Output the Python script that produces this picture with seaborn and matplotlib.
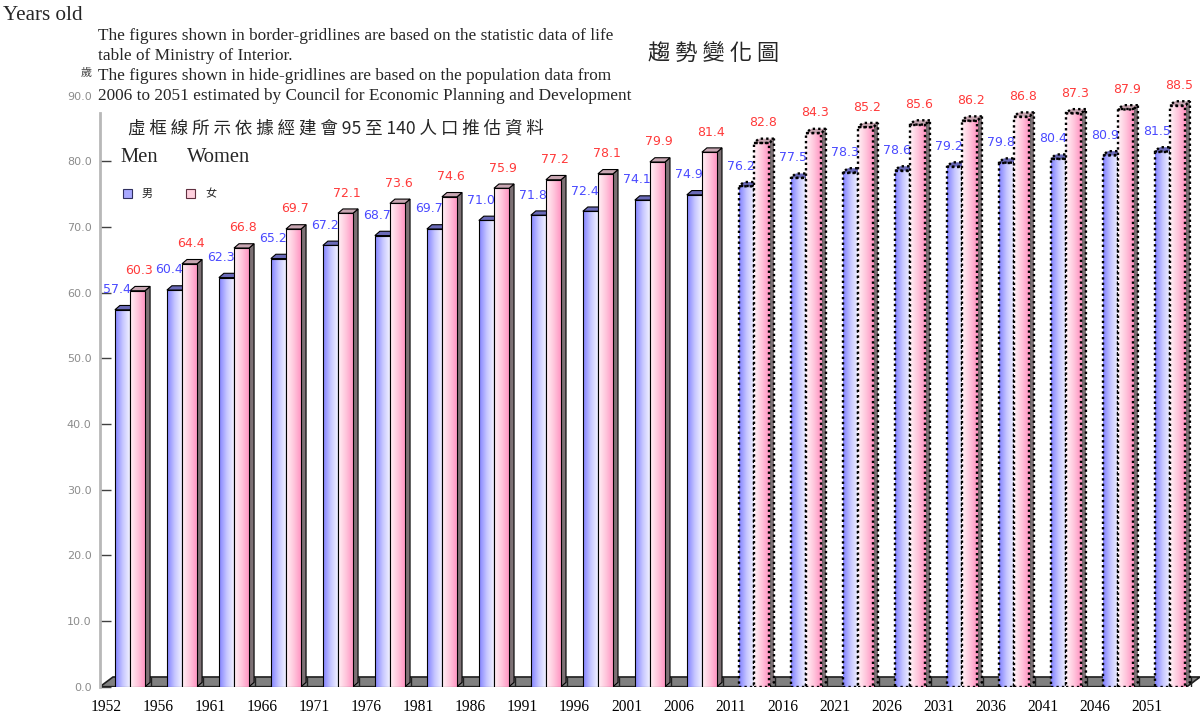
import numpy as np
import pandas as pd
import matplotlib
matplotlib.use("Agg")
import matplotlib.pyplot as plt
import seaborn as sns
from matplotlib.patches import Polygon, Patch
from matplotlib.colors import LinearSegmentedColormap

# ---------------- data ----------------
years = ["1952", "1956", "1961", "1966", "1971", "1976", "1981", "1986", "1991",
         "1996", "2001", "2006", "2011", "2016", "2021", "2026", "2031", "2036",
         "2041", "2046", "2051"]
men = [57.4, 60.4, 62.3, 65.2, 67.2, 68.7, 69.7, 71.0, 71.8, 72.4, 74.1, 74.9,
       76.2, 77.5, 78.3, 78.6, 79.2, 79.8, 80.4, 80.9, 81.5]
women = [60.3, 64.4, 66.8, 69.7, 72.1, 73.6, 74.6, 75.9, 77.2, 78.1, 79.9, 81.4,
         82.8, 84.3, 85.2, 85.6, 86.2, 86.8, 87.3, 87.9, 88.5]
sexes = ["男", "女"]
n_lifetable = 12          # first groups: life-table data (solid border); rest projected (dotted)
yticks = np.arange(0, 91, 10)

# ---------------- style ----------------
sns.set_theme(style="white")
plt.rcParams["font.family"] = ["DejaVu Sans", "Noto Sans CJK TC"]
SERIF = ["Liberation Serif", "DejaVu Serif"]
CJK = ["Noto Sans CJK TC", "DejaVu Sans"]

W, H = 1203, 715
fig = plt.figure(figsize=(W / 100, H / 100), dpi=100)
ax = fig.add_axes([100 / W, 1 - 686.7 / H, 1100 / W, (686.7 - 95.7) / H])

df = pd.DataFrame({
    "year": years * 2,
    "sex": [sexes[0]] * len(years) + [sexes[1]] * len(years),
    "value": men + women,
})
sns.barplot(data=df, x="year", y="value", hue="sex", order=years, hue_order=sexes,
            width=0.58, palette=["#9a9aff", "#ffb0cc"], saturation=1,
            errorbar=None, legend=False, ax=ax)

cmaps = [LinearSegmentedColormap.from_list("m", ["#8282ff", "#c8c8ff", "#f6f6ff"]),
         LinearSegmentedColormap.from_list("w", ["#fff2f6", "#ffc6dc", "#ff90c0"])]
top_cols = ["#6a6ab8", "#c8a6b2"]
side_col = "#7c7074"
lab_cols = ["#4a4aff", "#ff3a3a"]
lab_dx = [-4, 1]

xlim = (-0.577, 20.58)
ylim = (0, 90)
ppx = (xlim[1] - xlim[0]) / 1100.0     # data units per pixel (x)
ppy = (ylim[1] - ylim[0]) / (686.7 - 95.7)
ddx, ddy = 5 * ppx, 4.3 * ppy          # 3D depth offset of bars
grad = np.linspace(0, 1, 64)[np.newaxis, :]
dotted = (0, (1, 1.3))

for j, cont in enumerate(ax.containers):
    zb = 2 + j
    for i, bar in enumerate(cont):
        x0, w, h = bar.get_x(), bar.get_width(), bar.get_height()
        proj = i >= n_lifetable
        ls = dotted if proj else "-"
        lw = 1.7 if proj else 0.8
        ax.imshow(grad, extent=(x0, x0 + w, 0, h), cmap=cmaps[j], aspect="auto",
                  zorder=zb + 0.2, interpolation="bilinear")
        bar.set_facecolor("none")
        bar.set_edgecolor("black")
        bar.set_linewidth(lw)
        bar.set_linestyle(ls)
        bar.set_zorder(zb + 0.4)
        side = Polygon([(x0 + w, 0), (x0 + w + ddx, ddy), (x0 + w + ddx, h + ddy), (x0 + w, h)],
                       closed=True, facecolor=side_col, edgecolor="black",
                       linewidth=lw, linestyle=ls, zorder=zb + 0.1)
        top = Polygon([(x0, h), (x0 + w, h), (x0 + w + ddx, h + ddy), (x0 + ddx, h + ddy)],
                      closed=True, facecolor=top_cols[j], edgecolor="black",
                      linewidth=lw, linestyle=ls, zorder=zb + 0.3)
        ax.add_patch(side)
        ax.add_patch(top)
        ax.annotate(f"{h:.1f}", (x0 + w / 2, h), xytext=(lab_dx[j], 14.5),
                    textcoords="offset points", ha="center", va="center",
                    color=lab_cols[j], fontsize=9, zorder=10)

# floor of the 3D chart
fdx, fdy = 13 * ppx, 1.48
n = len(years)
floor = Polygon([(xlim[0], 0), (xlim[1] - fdx, 0), (xlim[1], fdy), (xlim[0] + fdx, fdy)],
                closed=True, facecolor="#808080", edgecolor="#202020", linewidth=1.2, zorder=1.5)
ax.add_patch(floor)
ax.vlines(np.arange(n) + 0.4, 0, fdy, colors="#202020", linewidth=1.0, zorder=1.6)

# axes styling
for s in ["top", "right", "bottom"]:
    ax.spines[s].set_visible(False)
ax.spines["left"].set_color("#b8b8b8")
ax.spines["left"].set_linewidth(2)
ax.spines["left"].set_bounds(0, 87.4)
ax.set_yticks(yticks, labels=[f"{v:.1f}" for v in yticks])
ax.tick_params(axis="y", direction="in", length=8, width=1, color="#404040",
               labelcolor="#8c8c8c", labelsize=8, pad=6, left=True)
ax.yaxis.get_major_ticks()[-1].tick1line.set_visible(False)
ax.set_xticks(np.arange(n) - 0.45, labels=years)
ax.tick_params(axis="x", length=0, pad=9, labelsize=11.2, labelcolor="black")
for t in ax.get_xticklabels():
    t.set_fontfamily(SERIF)
ax.set_xlabel("")
ax.set_ylabel("")
ax.set_xlim(*xlim)
ax.set_ylim(*ylim)
ax.grid(False)

# texts
def ft(x, y, s, **kw):
    fig.text(x / W, 1 - y / H, s, **kw)

ft(3, 15, "Years old", fontsize=15.2, family=SERIF, va="center")
notes = ["The figures shown in border-gridlines are based on the statistic data of life",
         "table of Ministry of Interior.",
         "The figures shown in hide-gridlines are based on the population data from",
         "2006 to 2051 estimated by Council for Economic Planning and Development"]
for k, line in enumerate(notes):
    ft(98, 36 + 20 * k, line, fontsize=12.45, family=SERIF, va="center")
ft(86, 73, "歲", fontsize=8, family=CJK, ha="center", va="center", color="#404040")
ft(714, 53, "趨 勢 變 化 圖", fontsize=16, family=CJK, ha="center", va="center")
ft(128, 128, "虛 框 線 所 示 依 據 經 建 會 95 至 140 人 口 推 估 資 料",
   fontsize=12.6, family=CJK, va="center")
ft(120, 158, "Men", fontsize=14.8, family=SERIF, va="center")
ft(187, 158, "Women", fontsize=14.8, family=SERIF, va="center")

handles = [Patch(facecolor="#a8a8ff", edgecolor="#303060", linewidth=0.8),
           Patch(facecolor="#ffd0de", edgecolor="#603040", linewidth=0.8)]
ax.legend(handles, sexes, ncol=2, loc="center left", bbox_to_anchor=(123 / W, 1 - 194 / H),
          bbox_transform=fig.transFigure, frameon=False, handlelength=0.8, handleheight=0.8,
          handletextpad=0.9, columnspacing=3.0, borderpad=0, borderaxespad=0,
          prop={"family": CJK, "size": 8})

fig.savefig("out.png", dpi=100)
